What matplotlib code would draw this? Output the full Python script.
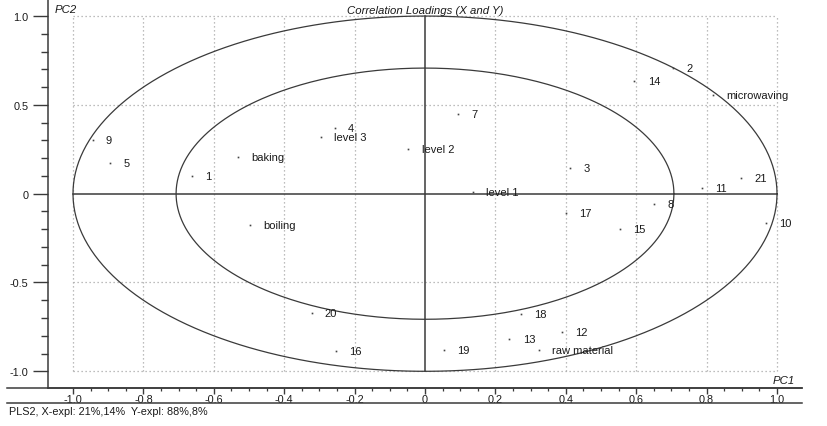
import numpy as np
import matplotlib
matplotlib.use('Agg')
import matplotlib.pyplot as plt
from matplotlib.lines import Line2D

plt.rcParams['font.family'] = ['Liberation Sans', 'DejaVu Sans']

# Correlation loadings (PC1, PC2)
labels = ['9', '5', '1', 'baking', 'boiling', '4', 'level 3', 'level 2', '7',
          'level 1', '2', '14', 'microwaving', '3', '21', '11', '8', '17',
          '15', '10', '20', '16', '19', '18', '13', '12', 'raw material']
pc1 = [-0.944, -0.895, -0.661, -0.532, -0.497, -0.256, -0.296, -0.047, 0.095,
       0.135, 0.704, 0.595, 0.819, 0.412, 0.898, 0.786, 0.651, 0.400,
       0.554, 0.969, -0.322, -0.254, 0.055, 0.272, 0.240, 0.388, 0.324]
pc2 = [0.302, 0.171, 0.099, 0.204, -0.177, 0.372, 0.317, 0.249, 0.450,
       0.011, 0.705, 0.634, 0.555, 0.146, 0.090, 0.034, -0.059, -0.107,
       -0.199, -0.163, -0.670, -0.884, -0.882, -0.680, -0.819, -0.777, -0.882]

x_ticks = [-1.0, -0.8, -0.6, -0.4, -0.2, 0.0, 0.2, 0.4, 0.6, 0.8, 1.0]
x_ticklabels = ['-1.0', '-0.8', '-0.6', '-0.4', '-0.2', '0', '0.2', '0.4', '0.6', '0.8', '1.0']
y_ticks = [-1.0, -0.5, 0.0, 0.5, 1.0]
y_ticklabels = ['-1.0', '-0.5', '0', '0.5', '1.0']

W, H = 827, 427
fig = plt.figure(figsize=(W / 100, H / 100), dpi=100)
ax = fig.add_axes([48 / W, 38 / H, (802 - 48) / W, (H - 38) / H])
ax.set_xlim(-1.071, 1.071)
ax.set_ylim(-1.094, 1.096)

LINE = '#3a3a3a'
GRID = '#a8a8a8'

# dotted grid inside the unit box
for gx in x_ticks:
    if gx != 0:
        ax.plot([gx, gx], [-1, 1], color=GRID, lw=0.9, ls=(0, (1, 2.2)), zorder=1)
for gy in y_ticks:
    if gy != 0:
        ax.plot([-1, 1], [gy, gy], color=GRID, lw=0.9, ls=(0, (1, 2.2)), zorder=1)

# solid cross through origin
ax.plot([-1, 1], [0, 0], color=LINE, lw=1.1, zorder=2)
ax.plot([0, 0], [-1, 1], color=LINE, lw=1.1, zorder=2)

# 100% and 50% explained variance ellipses
t = np.linspace(0, 2 * np.pi, 400)
for r in (1.0, np.sqrt(0.5)):
    ax.plot(r * np.cos(t), r * np.sin(t), color=LINE, lw=0.9, zorder=2)

# points and labels
ax.plot(pc1, pc2, ls='none', marker='s', ms=1.2, mew=0, color='#444444', zorder=3)
for lab, x, y in zip(labels, pc1, pc2):
    ax.annotate(lab, (x, y), xytext=(9.5, 0), textcoords='offset points',
                ha='left', va='center', fontsize=8, color='#1a1a1a', zorder=4)

# axes styling
for side in ('top', 'right'):
    ax.spines[side].set_visible(False)
ax.spines['left'].set_color(LINE)
ax.spines['bottom'].set_color(LINE)
ax.spines['left'].set_linewidth(1.1)
ax.spines['bottom'].set_linewidth(1.1)

ax.set_xticks(x_ticks)
ax.set_xticklabels(x_ticklabels)
ax.set_xticks(np.round(np.arange(-1.0, 1.0001, 0.05), 2), minor=True)
ax.set_yticks(y_ticks)
ax.set_yticklabels(y_ticklabels)
ax.set_yticks(np.round(np.arange(-1.0, 1.0001, 0.1), 2), minor=True)

ax.tick_params(axis='x', which='major', direction='out', length=4, width=1,
               color=LINE, pad=0.5, labelsize=7.8, labelcolor='#1a1a1a')
ax.tick_params(axis='x', which='minor', direction='out', length=2, width=0.9, color=LINE)
ax.tick_params(axis='y', which='major', direction='out', length=11, width=1,
               color=LINE, pad=3, labelsize=7.8, labelcolor='#1a1a1a')
ax.tick_params(axis='y', which='minor', direction='out', length=5, width=1, color=LINE)

# long baseline and the rule under the x tick labels
for yy in (389, 404):
    fig.add_artist(Line2D([7 / W, 802 / W], [1 - yy / H, 1 - yy / H],
                          transform=fig.transFigure, color=LINE, lw=1.1))

fig.text(425 / W, 1 - 10.5 / H, 'Correlation Loadings (X and Y)', ha='center',
         va='center', style='italic', fontsize=8.2, color='#1a1a1a')
fig.text(55 / W, 1 - 10 / H, 'PC2', ha='left', va='center', style='italic',
         fontsize=8.2, color='#1a1a1a')
fig.text(795 / W, 1 - 381.5 / H, 'PC1', ha='right', va='center', style='italic',
         fontsize=8.2, color='#1a1a1a')
fig.text(9 / W, 1 - 412 / H, 'PLS2, X-expl: 21%,14%  Y-expl: 88%,8%', ha='left',
         va='center', fontsize=7.8, color='#1a1a1a')

fig.savefig('out.png', dpi=100)
